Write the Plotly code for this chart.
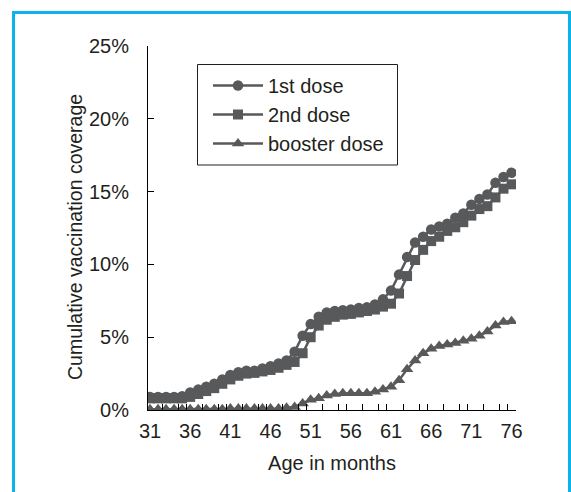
import plotly.graph_objects as go

ages = [31, 32, 33, 34, 35, 36, 37, 38, 39, 40, 41, 42, 43, 44, 45, 46,
        47, 48, 49, 50, 51, 52, 53, 54, 55, 56, 57, 58, 59, 60, 61, 62,
        63, 64, 65, 66, 67, 68, 69, 70, 71, 72, 73, 74, 75, 76]

first_dose = [0.9, 0.9, 0.9, 0.9, 0.95,
              1.2, 1.4, 1.6, 1.8, 2.1, 2.4, 2.6, 2.7, 2.7, 2.85, 3.0, 3.2, 3.4,
              4.0, 5.1, 5.9, 6.4, 6.7, 6.8,
              6.85, 6.9, 7.0, 7.05, 7.25, 7.6,
              8.2, 9.3, 10.5, 11.5, 11.9, 12.4,
              12.6, 12.8, 13.2, 13.5, 14.1, 14.5, 14.8, 15.6, 16.0, 16.3]

second_dose = [0.8, 0.8, 0.8, 0.8, 0.8,
               0.9, 1.1, 1.3, 1.5, 1.8, 2.1, 2.35, 2.5, 2.55, 2.65, 2.75, 2.9, 3.1,
               3.3, 3.9, 5.0, 5.8, 6.2, 6.4,
               6.55, 6.6, 6.7, 6.8, 6.9, 7.1,
               7.3, 8.0, 9.2, 10.3, 11.0, 11.6,
               11.9, 12.3, 12.55, 12.9, 13.35, 13.8, 14.0, 14.6, 15.2, 15.5]

booster_dose = [0.05, 0.05, 0.05, 0.05, 0.05, 0.05, 0.05, 0.05, 0.05, 0.05,
                0.1, 0.1, 0.1, 0.1, 0.1, 0.1, 0.1, 0.15,
                0.2, 0.45, 0.7, 0.8, 1.0, 1.1,
                1.15, 1.15, 1.15, 1.15, 1.25, 1.4,
                1.6, 2.05, 2.8, 3.4, 3.9, 4.2,
                4.4, 4.5, 4.6, 4.75, 4.9, 5.1, 5.4, 5.8, 6.05, 6.1]

x_tick_labels = [31, 36, 41, 46, 51, 56, 61, 66, 71, 76]
y_tick_values = [0, 5, 10, 15, 20, 25]
y_tick_text = ["0%", "5%", "10%", "15%", "20%", "25%"]

GRAY = "#58595b"
TXT = "#231f20"
FONT = "Liberation Sans, Arial, sans-serif"
FS = 20

fig = go.Figure()
series = [
    ("booster dose", booster_dose, "triangle-up", 11, 3),
    ("2nd dose", second_dose, "square", 10, 2),
    ("1st dose", first_dose, "circle", 10.5, 1),
]
for name, vals, sym, size, rank in series:
    fig.add_trace(go.Scatter(
        x=ages, y=vals, name=name, mode="lines+markers",
        line=dict(color=GRAY, width=2.5),
        marker=dict(symbol=sym, size=size, color=GRAY),
        legendgroup=name, legendrank=rank,
    ))

# minor tick positions between months (as they appear in the figure)
minor_ticks = [m + 0.5 for m in range(30, 77) if m % 5 in (0, 2, 4)]

def px_x(p):
    return (p - 148) / 368

def px_y(p):
    return (410 - p) / 364

fig.update_layout(
    width=571, height=492,
    margin=dict(l=148, r=55, t=46, b=82),
    paper_bgcolor="white", plot_bgcolor="white",
    font=dict(family=FONT, size=FS, color=TXT),
    showlegend=True,
    legend=dict(
        x=px_x(208), y=px_y(66), xanchor="left", yanchor="top",
        borderwidth=0, bgcolor="rgba(0,0,0,0)",
        font=dict(family=FONT, size=FS, color=TXT),
        tracegroupgap=0, itemwidth=50,
    ),
    xaxis=dict(
        range=[30.75, 76.56],
        tickmode="array", tickvals=x_tick_labels,
        ticks="", showline=True, linecolor="black", linewidth=1,
        showgrid=False, zeroline=False,
        ticklabelstandoff=3,
        minor=dict(tickmode="array", tickvals=minor_ticks, ticks="inside",
                   ticklen=6, tickcolor="black", tickwidth=1, showgrid=False),
        title=dict(text="Age in months", standoff=14,
                   font=dict(family=FONT, size=FS, color=TXT)),
    ),
    yaxis=dict(
        range=[0, 25],
        tickmode="array", tickvals=y_tick_values, ticktext=y_tick_text,
        ticks="inside", ticklen=6, tickcolor="black", tickwidth=1,
        showline=True, linecolor="black", linewidth=1,
        showgrid=False, zeroline=False,
        ticklabelstandoff=14,
    ),
    annotations=[dict(
        text="Cumulative vaccination coverage", textangle=-90,
        xref="paper", yref="paper", x=px_x(75), y=px_y(237),
        xanchor="center", yanchor="middle", showarrow=False,
        font=dict(family=FONT, size=19.5, color=TXT),
    )],
    shapes=[
        dict(type="rect", xref="paper", yref="paper",
             x0=px_x(13.5), x1=px_x(569.5), y0=px_y(510), y1=px_y(12.5),
             line=dict(color="#0bb2ec", width=3), fillcolor="rgba(0,0,0,0)",
             layer="below"),
        dict(type="rect", xref="paper", yref="paper",
             x0=px_x(197.5), x1=px_x(397.5), y0=px_y(165), y1=px_y(64.5),
             line=dict(color="#231f20", width=1), fillcolor="white",
             layer="below"),
    ],
)

fig.write_html("out.html")
